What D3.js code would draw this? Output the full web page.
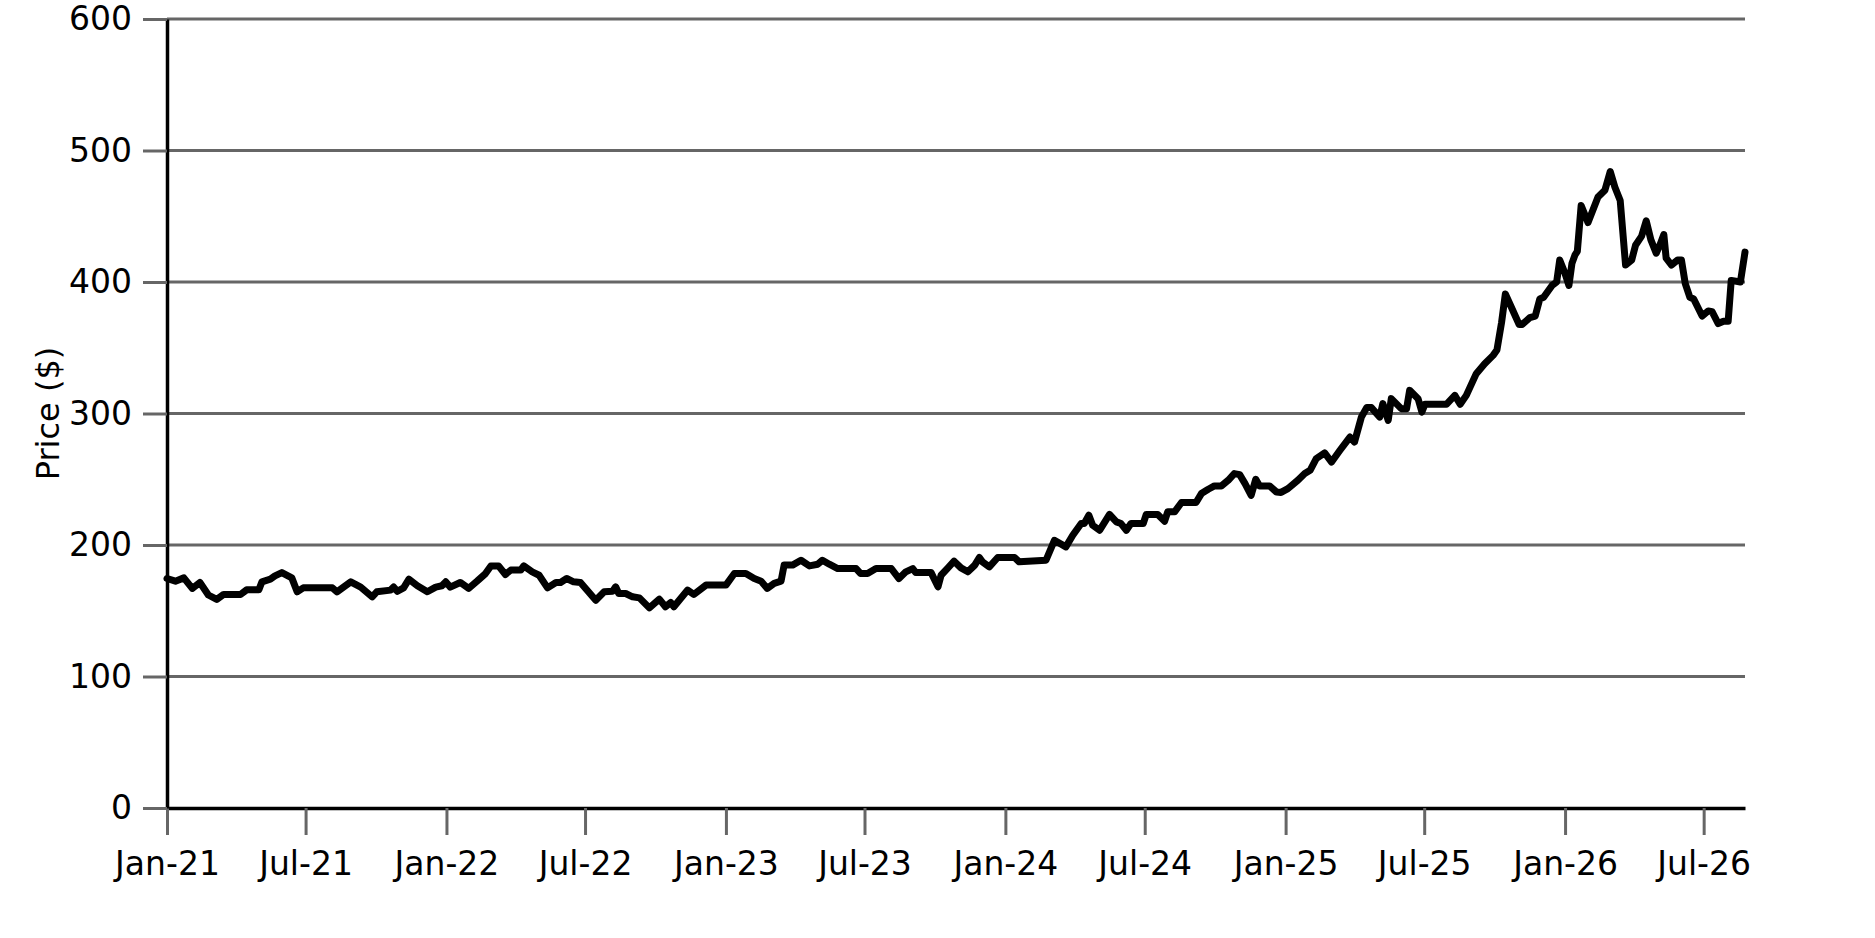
<!DOCTYPE html>
<html>
<head>
<meta charset="utf-8">
<script src="https://cdn.jsdelivr.net/npm/d3@7"></script>
<style>
  html, body { margin: 0; padding: 0; background: #fff; }
  svg { display: block; }
</style>
</head>
<body>
<svg id="chart" width="1875" height="938"></svg>
<script>
const dates = [
"2021-01-01","2021-01-12","2021-01-23","2021-02-03","2021-02-13","2021-02-24","2021-03-07","2021-03-16","2021-04-07","2021-04-15",
"2021-05-01","2021-05-05","2021-05-16","2021-05-22","2021-05-31","2021-06-13","2021-06-20","2021-06-28","2021-08-05","2021-08-11",
"2021-08-29","2021-09-11","2021-09-26","2021-10-02","2021-10-20","2021-10-24","2021-10-29","2021-11-06","2021-11-13","2021-11-24",
"2021-12-07","2021-12-18","2021-12-26","2021-12-31","2022-01-06","2022-01-19","2022-01-30","2022-02-10","2022-02-21","2022-02-28",
"2022-03-10","2022-03-19","2022-03-26","2022-04-08","2022-04-12","2022-04-23","2022-05-02","2022-05-13","2022-05-24","2022-05-30",
"2022-06-07","2022-06-16","2022-06-25","2022-07-15","2022-07-26","2022-08-06","2022-08-10","2022-08-14","2022-08-23","2022-09-01",
"2022-09-10","2022-09-23","2022-10-06","2022-10-14","2022-10-21","2022-10-25","2022-11-01","2022-11-12","2022-11-20","2022-12-06",
"2023-01-01","2023-01-12","2023-01-27","2023-02-07","2023-02-16","2023-02-24","2023-03-05","2023-03-14","2023-03-18","2023-03-29",
"2023-04-09","2023-04-20","2023-05-01","2023-05-07","2023-05-16","2023-05-27","2023-06-20","2023-06-26","2023-07-05","2023-07-16",
"2023-08-05","2023-08-15","2023-08-24","2023-09-02","2023-09-06","2023-09-26","2023-10-05","2023-10-09","2023-10-18","2023-10-26",
"2023-11-04","2023-11-13","2023-11-22","2023-11-28","2023-12-02","2023-12-11","2023-12-22","2024-01-13","2024-01-19","2024-02-23",
"2024-03-05","2024-03-20","2024-03-29","2024-04-09","2024-04-13","2024-04-19","2024-04-24","2024-05-03","2024-05-16","2024-05-25",
"2024-05-31","2024-06-07","2024-06-13","2024-06-29","2024-07-03","2024-07-18","2024-07-27","2024-07-31","2024-08-09","2024-08-18",
"2024-09-06","2024-09-13","2024-09-22","2024-09-30","2024-10-09","2024-10-18","2024-10-26","2024-11-02","2024-11-09","2024-11-17",
"2024-11-23","2024-11-28","2024-12-11","2024-12-20","2024-12-26","2025-01-04","2025-01-17","2025-01-26","2025-02-02","2025-02-10",
"2025-02-21","2025-03-02","2025-03-13","2025-03-26","2025-04-01","2025-04-10","2025-04-17","2025-04-23","2025-05-04","2025-05-08",
"2025-05-15","2025-05-19","2025-06-01","2025-06-08","2025-06-12","2025-06-23","2025-06-28","2025-07-02","2025-07-30","2025-08-10",
"2025-08-17","2025-08-25","2025-09-07","2025-09-18","2025-09-29","2025-10-04","2025-10-10","2025-10-15","2025-10-23","2025-11-02",
"2025-11-06","2025-11-16","2025-11-23","2025-11-29","2025-12-04","2025-12-15","2025-12-21","2025-12-25","2026-01-01","2026-01-06",
"2026-01-10","2026-01-14","2026-01-17","2026-01-22","2026-01-31","2026-02-13","2026-02-22","2026-03-01","2026-03-07","2026-03-14",
"2026-03-21","2026-03-29","2026-04-03","2026-04-11","2026-04-17","2026-04-23","2026-04-30","2026-05-05","2026-05-10","2026-05-13",
"2026-05-20","2026-05-28","2026-06-02","2026-06-07","2026-06-13","2026-06-18","2026-06-29","2026-07-07","2026-07-12","2026-07-20",
"2026-07-27","2026-08-02","2026-08-06","2026-08-18","2026-08-24"
];
const prices = [
174.5,172.5,175,167,171.5,162,158.6,162.4,162.4,165.9,
165.9,172,174,176.5,179,175,164.4,167.4,167.4,164.4,
172,168,160.6,164.4,165.7,168,164.8,167.4,174,169,
164.4,168,169,172,168,171.5,167,172.5,178.3,184.1,
184.1,177.6,180.9,180.9,184.1,179.6,177,167.4,171.5,171.5,
174.5,172,171.5,158,164.4,164.8,168.2,163.1,163.1,160.6,
159.8,152.2,158.8,153,156.3,153,158,165.7,162.4,169.5,
169.5,178.3,178.3,174.5,172.5,167,170.8,172.5,184.7,184.7,
188.4,184.1,185.4,188.4,185.4,182.1,182.1,178.3,178.3,182.1,
182.1,174.5,179.6,182.1,179,179,168.2,177,182.6,187.7,
182.6,179.6,184.7,190.5,187.2,183.4,190.5,190.5,187.2,188.4,
203.6,198.6,207.4,216.3,216.3,222.6,215,211.2,223.2,217.6,
216.3,211.2,216.3,216.3,223.2,223.2,218.1,225.2,225.2,232.3,
232.3,239.1,242.4,244.9,244.9,249.2,254.3,253.5,246.7,237.8,
250,244.9,244.9,240.3,240,242.9,249.2,254.3,256.8,265.7,
270,263.1,272,282.1,278.3,297.3,304.5,304.5,297.3,307.5,
294.8,311.3,303.7,303.7,317.6,311.3,301.1,307,307,313.8,
307,313.8,330.3,337.9,344.2,348.3,369,390.9,380.6,367.7,
367.7,372.9,374.1,387.1,388.4,397.4,400,416.7,406.4,397.4,
414.2,420.6,423.3,458.1,445.2,464.6,469.8,484,472.3,462,
412.9,416.7,427.9,434.9,446.5,432.2,421.9,428.4,436.1,418.1,
412.9,416.7,416.7,398.7,388.4,387.1,374.1,378,377.5,368.4,
370.2,370.2,401.2,400,422.7
];
const yTicks = [0, 100, 200, 300, 400, 500, 600];
const yLabel = "Price ($)";

const parse = d3.timeParse("%Y-%m-%d");
const data = dates.map((d, i) => ({ date: parse(d), value: prices[i] }));

const W = 1875, H = 938;
const margin = { top: 19, right: 130, bottom: 130, left: 167 };
const iw = W - margin.left - margin.right;
const ih = H - margin.top - margin.bottom;
const font = "'DejaVu Sans', sans-serif";

const svg = d3.select("#chart");
const g = svg.append("g").attr("transform", `translate(${margin.left},${margin.top})`);

const x = d3.scaleTime().domain(d3.extent(data, d => d.date)).range([0, iw]);
const y = d3.scaleLinear().domain([0, 600]).range([ih, 0]);

// gridlines
g.append("g").selectAll("line")
  .data(yTicks.filter(t => t > 0))
  .join("line")
  .attr("x1", 0).attr("x2", iw)
  .attr("y1", d => y(d)).attr("y2", d => y(d))
  .attr("stroke", "#666").attr("stroke-width", 3);

// price line
const line = d3.line().x(d => x(d.date)).y(d => y(d.value));
g.append("path")
  .datum(data)
  .attr("d", line)
  .attr("fill", "none")
  .attr("stroke", "#000")
  .attr("stroke-width", 7)
  .attr("stroke-linejoin", "round")
  .attr("stroke-linecap", "round");

// x axis
const xAxis = d3.axisBottom(x)
  .ticks(d3.timeMonth.every(6))
  .tickFormat(d3.timeFormat("%b-%y"))
  .tickSizeInner(27).tickSizeOuter(0).tickPadding(17);
const gx = g.append("g").attr("transform", `translate(0,${ih})`).call(xAxis);
gx.select(".domain").attr("stroke", "#000").attr("stroke-width", 3.5);
gx.selectAll(".tick line").attr("stroke", "#666").attr("stroke-width", 3);
gx.selectAll(".tick text").attr("fill", "#000").style("font-family", font).style("font-size", "33px");

// y axis
const yAxis = d3.axisLeft(y)
  .tickValues(yTicks)
  .tickSizeInner(24).tickSizeOuter(0).tickPadding(11);
const gy = g.append("g").call(yAxis);
gy.select(".domain").attr("stroke", "#000").attr("stroke-width", 3.5);
gy.selectAll(".tick line").attr("stroke", "#666").attr("stroke-width", 3);
gy.selectAll(".tick text").attr("fill", "#000").style("font-family", font).style("font-size", "33px");

// y label
svg.append("text")
  .attr("transform", `translate(48,${margin.top + ih / 2}) rotate(-90)`)
  .attr("text-anchor", "middle")
  .attr("dominant-baseline", "central")
  .attr("fill", "#000")
  .style("font-family", font)
  .style("font-size", "32px")
  .text(yLabel);
</script>
</body>
</html>
